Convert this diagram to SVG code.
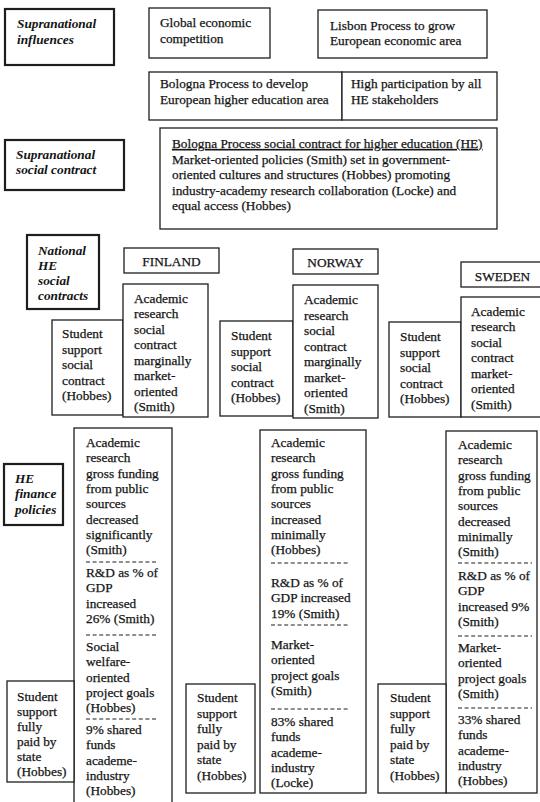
<svg xmlns="http://www.w3.org/2000/svg" width="540" height="802" viewBox="0 0 540 802">
<style>
text{font-family:"Liberation Serif","Times New Roman",serif;font-size:13.3px;fill:#141414;stroke:#141414;stroke-width:0.25}
.lab{font-style:italic;font-weight:bold;stroke-width:0}
.b{fill:#fff;stroke:#1e1e1e;stroke-width:1.3}
.k{fill:#fff;stroke:#1e1e1e;stroke-width:2.2}
.d{stroke:#1e1e1e;stroke-width:1.1;stroke-dasharray:4 2.6}
.c{text-anchor:middle}
</style>
<rect width="540" height="802" fill="#fff"/>
<g id="connectors"></g>

<g id="lab-supra-infl"><rect class="k" x="5" y="9" width="109" height="56"/>
<text class="lab" x="17"><tspan x="17" y="28">Supranational</tspan><tspan x="17" y="44">influences</tspan></text></g>

<g id="global"><rect class="b" x="149" y="8" width="121" height="50"/>
<text x="160"><tspan x="160" y="27">Global economic</tspan><tspan x="160" y="43">competition</tspan></text></g>

<g id="lisbon"><rect class="b" x="318" y="10" width="169" height="48"/>
<text><tspan x="330" y="30">Lisbon Process to grow</tspan><tspan x="330" y="45">European economic area</tspan></text></g>

<g id="bologna"><rect class="b" x="149" y="72" width="193" height="48"/>
<text><tspan x="160" y="88">Bologna Process to develop</tspan><tspan x="160" y="104">European higher education area</tspan></text></g>

<g id="participation"><rect class="b" x="342" y="72" width="155" height="48"/>
<text><tspan x="351" y="88">High participation by all</tspan><tspan x="351" y="104">HE stakeholders</tspan></text></g>

<g id="lab-supra-contract"><rect class="k" x="5" y="140" width="119" height="50"/>
<text class="lab"><tspan x="16" y="159">Supranational</tspan><tspan x="16" y="174">social contract</tspan></text></g>

<g id="bologna-contract"><rect class="b" x="160" y="128" width="337" height="101"/>
<text x="172" y="148" text-decoration="underline">Bologna Process social contract for higher education (HE)</text>
<text><tspan x="172" y="163.5">Market-oriented policies (Smith) set in government-</tspan><tspan x="172" y="179">oriented cultures and structures (Hobbes) promoting</tspan><tspan x="172" y="194.5">industry-academy research collaboration (Locke) and</tspan><tspan x="172" y="210">equal access (Hobbes)</tspan></text></g>

<g id="lab-national"><rect class="k" x="27" y="235" width="72" height="74"/>
<text class="lab"><tspan x="38" y="254.5">National</tspan><tspan x="38" y="269.5">HE</tspan><tspan x="38" y="285">social</tspan><tspan x="38" y="300">contracts</tspan></text></g>

<g id="finland"><rect class="b" x="124" y="248" width="95" height="25"/>
<text class="c" x="171.5" y="266">FINLAND</text></g>
<g id="norway"><rect class="b" x="293" y="249" width="85" height="25"/>
<text class="c" x="335.5" y="267">NORWAY</text></g>
<g id="sweden"><rect class="b" x="461" y="262" width="84" height="25"/>
<text class="c" x="502.5" y="280.5">SWEDEN</text></g>

<g id="fi-student-contract"><rect class="b" x="52" y="320" width="71" height="95"/>
<text><tspan x="62" y="338">Student</tspan><tspan x="62" y="353.5">support</tspan><tspan x="62" y="369">social</tspan><tspan x="62" y="384.5">contract</tspan><tspan x="62" y="400">(Hobbes)</tspan></text></g>
<g id="fi-research-contract"><rect class="b" x="123" y="284" width="85" height="133"/>
<text><tspan x="134" y="302.5">Academic</tspan><tspan x="134" y="318">research</tspan><tspan x="134" y="333.5">social</tspan><tspan x="134" y="349">contract</tspan><tspan x="134" y="364.5">marginally</tspan><tspan x="134" y="380">market-</tspan><tspan x="134" y="395.5">oriented</tspan><tspan x="134" y="411">(Smith)</tspan></text></g>

<g id="no-student-contract"><rect class="b" x="220" y="321" width="73" height="95"/>
<text><tspan x="231" y="340">Student</tspan><tspan x="231" y="355.5">support</tspan><tspan x="231" y="371">social</tspan><tspan x="231" y="386.5">contract</tspan><tspan x="231" y="402">(Hobbes)</tspan></text></g>
<g id="no-research-contract"><rect class="b" x="293" y="285" width="85" height="133"/>
<text><tspan x="304" y="304">Academic</tspan><tspan x="304" y="319.5">research</tspan><tspan x="304" y="335">social</tspan><tspan x="304" y="350.5">contract</tspan><tspan x="304" y="366">marginally</tspan><tspan x="304" y="381.5">market-</tspan><tspan x="304" y="397">oriented</tspan><tspan x="304" y="412.5">(Smith)</tspan></text></g>

<g id="se-student-contract"><rect class="b" x="389" y="322" width="72" height="95"/>
<text><tspan x="400" y="341">Student</tspan><tspan x="400" y="356.5">support</tspan><tspan x="400" y="372">social</tspan><tspan x="400" y="387.5">contract</tspan><tspan x="400" y="403">(Hobbes)</tspan></text></g>
<g id="se-research-contract"><rect class="b" x="461" y="297" width="84" height="120"/>
<text><tspan x="471" y="315.5">Academic</tspan><tspan x="471" y="331">research</tspan><tspan x="471" y="346.5">social</tspan><tspan x="471" y="362">contract</tspan><tspan x="471" y="377.5">market-</tspan><tspan x="471" y="393">oriented</tspan><tspan x="471" y="408.5">(Smith)</tspan></text></g>

<g id="lab-finance"><rect class="k" x="4" y="464" width="59" height="61"/>
<text class="lab"><tspan x="15" y="482.5">HE</tspan><tspan x="15" y="498">finance</tspan><tspan x="15" y="514">policies</tspan></text></g>

<g id="fi-finance"><rect class="b" x="74" y="428" width="98" height="380"/>
<text><tspan x="86" y="447">Academic</tspan><tspan x="86" y="462.3">research</tspan><tspan x="86" y="477.6">gross funding</tspan><tspan x="86" y="492.9">from public</tspan><tspan x="86" y="508.2">sources</tspan><tspan x="86" y="523.5">decreased</tspan><tspan x="86" y="538.8">significantly</tspan><tspan x="86" y="554">(Smith)</tspan></text>
<line class="d" x1="86" y1="562" x2="158" y2="562"/>
<text><tspan x="86" y="577">R&amp;D as % of</tspan><tspan x="86" y="592.3">GDP</tspan><tspan x="86" y="607.6">increased</tspan><tspan x="86" y="623">26% (Smith)</tspan></text>
<line class="d" x1="86" y1="635" x2="158" y2="635"/>
<text><tspan x="86" y="651">Social</tspan><tspan x="86" y="666.3">welfare-</tspan><tspan x="86" y="681.6">oriented</tspan><tspan x="86" y="696.9">project goals</tspan><tspan x="86" y="712">(Hobbes)</tspan></text>
<line class="d" x1="86" y1="719" x2="158" y2="719"/>
<text><tspan x="86" y="734">9% shared</tspan><tspan x="86" y="749.3">funds</tspan><tspan x="86" y="764.6">academe-</tspan><tspan x="86" y="779.9">industry</tspan><tspan x="86" y="795">(Hobbes)</tspan></text></g>
<g id="fi-student-state"><rect class="b" x="7" y="681" width="67" height="101"/>
<text><tspan x="17" y="701">Student</tspan><tspan x="17" y="716">support</tspan><tspan x="17" y="731">fully</tspan><tspan x="17" y="746">paid by</tspan><tspan x="17" y="761">state</tspan><tspan x="17" y="776">(Hobbes)</tspan></text></g>

<g id="no-finance"><rect class="b" x="260" y="430" width="106" height="363"/>
<text><tspan x="271" y="447">Academic</tspan><tspan x="271" y="462.3">research</tspan><tspan x="271" y="477.6">gross funding</tspan><tspan x="271" y="492.9">from public</tspan><tspan x="271" y="508.2">sources</tspan><tspan x="271" y="523.5">increased</tspan><tspan x="271" y="538.8">minimally</tspan><tspan x="271" y="554">(Hobbes)</tspan></text>
<line class="d" x1="271" y1="563" x2="348" y2="563"/>
<text><tspan x="271" y="587">R&amp;D as % of</tspan><tspan x="271" y="602.3">GDP increased</tspan><tspan x="271" y="617.6">19% (Smith)</tspan></text>
<line class="d" x1="271" y1="625" x2="348" y2="625"/>
<text><tspan x="271" y="649">Market-</tspan><tspan x="271" y="664.3">oriented</tspan><tspan x="271" y="679.6">project goals</tspan><tspan x="271" y="695">(Smith)</tspan></text>
<line class="d" x1="271" y1="709" x2="348" y2="709"/>
<text><tspan x="271" y="726">83% shared</tspan><tspan x="271" y="741.3">funds</tspan><tspan x="271" y="756.6">academe-</tspan><tspan x="271" y="771.9">industry</tspan><tspan x="271" y="787">(Locke)</tspan></text></g>
<g id="no-student-state"><rect class="b" x="186" y="684" width="69" height="109"/>
<text><tspan x="197" y="702">Student</tspan><tspan x="197" y="717.5">support</tspan><tspan x="197" y="733">fully</tspan><tspan x="197" y="748.5">paid by</tspan><tspan x="197" y="764">state</tspan><tspan x="197" y="779.5">(Hobbes)</tspan></text></g>

<g id="se-finance"><rect class="b" x="446" y="431" width="91" height="362"/>
<text><tspan x="458" y="449">Academic</tspan><tspan x="458" y="464.3">research</tspan><tspan x="458" y="479.6">gross funding</tspan><tspan x="458" y="494.9">from public</tspan><tspan x="458" y="510.2">sources</tspan><tspan x="458" y="525.5">decreased</tspan><tspan x="458" y="540.8">minimally</tspan><tspan x="458" y="556">(Smith)</tspan></text>
<line class="d" x1="458" y1="563" x2="532" y2="563"/>
<text><tspan x="458" y="580">R&amp;D as % of</tspan><tspan x="458" y="595.3">GDP</tspan><tspan x="458" y="610.6">increased 9%</tspan><tspan x="458" y="626">(Smith)</tspan></text>
<line class="d" x1="458" y1="636" x2="532" y2="636"/>
<text><tspan x="458" y="652">Market-</tspan><tspan x="458" y="667.3">oriented</tspan><tspan x="458" y="682.6">project goals</tspan><tspan x="458" y="698">(Smith)</tspan></text>
<line class="d" x1="458" y1="708" x2="532" y2="708"/>
<text><tspan x="458" y="724">33% shared</tspan><tspan x="458" y="739.3">funds</tspan><tspan x="458" y="754.6">academe-</tspan><tspan x="458" y="769.9">industry</tspan><tspan x="458" y="785">(Hobbes)</tspan></text></g>
<g id="se-student-state"><rect class="b" x="378" y="684" width="68" height="109"/>
<text><tspan x="390" y="702">Student</tspan><tspan x="390" y="717.5">support</tspan><tspan x="390" y="733">fully</tspan><tspan x="390" y="748.5">paid by</tspan><tspan x="390" y="764">state</tspan><tspan x="390" y="779.5">(Hobbes)</tspan></text></g>
</svg>
